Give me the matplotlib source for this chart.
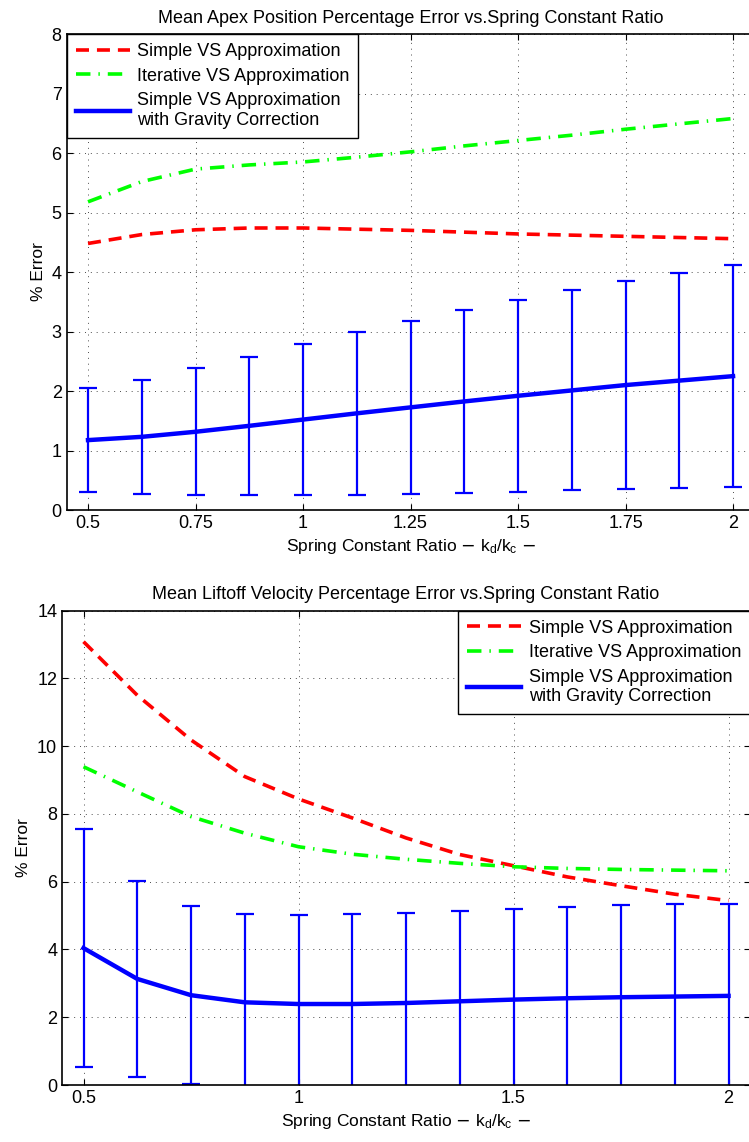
import matplotlib
matplotlib.use("Agg")
import matplotlib.pyplot as plt
import numpy as np

plt.rcParams["font.family"] = ["Liberation Sans", "DejaVu Sans"]

ratio = np.array([0.5, 0.625, 0.75, 0.875, 1.0, 1.125, 1.25, 1.375, 1.5, 1.625, 1.75, 1.875, 2.0])

# apex position error (%)
apex_simple = [4.48, 4.63, 4.71, 4.74, 4.74, 4.72, 4.70, 4.67, 4.64, 4.62, 4.60, 4.58, 4.56]
apex_iter = [5.18, 5.52, 5.73, 5.80, 5.85, 5.93, 6.02, 6.12, 6.21, 6.30, 6.40, 6.49, 6.58]
apex_grav = [1.175, 1.23, 1.315, 1.415, 1.52, 1.625, 1.725, 1.825, 1.92, 2.01, 2.10, 2.175, 2.25]
apex_grav_std = [0.875, 0.96, 1.065, 1.165, 1.27, 1.365, 1.455, 1.535, 1.61, 1.68, 1.75, 1.805, 1.86]

# liftoff velocity error (%)
vel_simple = [13.08, 11.5, 10.18, 9.1, 8.44, 7.88, 7.29, 6.8, 6.47, 6.14, 5.88, 5.63, 5.44]
vel_iter = [9.39, 8.65, 7.92, 7.43, 7.03, 6.81, 6.66, 6.54, 6.44, 6.39, 6.36, 6.34, 6.32]
vel_grav = [4.04, 3.13, 2.65, 2.44, 2.39, 2.39, 2.42, 2.47, 2.52, 2.56, 2.59, 2.61, 2.63]
vel_grav_std = [3.50, 2.90, 2.63, 2.61, 2.64, 2.65, 2.66, 2.66, 2.67, 2.70, 2.71, 2.72, 2.72]

labels = ["Simple VS Approximation", "Iterative VS Approximation",
          "Simple VS Approximation\nwith Gravity Correction"]


def draw(ax, simple, iterative, grav, grav_std, title, ylim, yticks, xticks, legend_loc):
    ax.errorbar(ratio, grav, yerr=grav_std, fmt="none", ecolor=(0, 0, 1),
                elinewidth=1.6, capsize=6.5, capthick=1.6, zorder=2)
    ax.plot(ratio, simple, color=(1, 0, 0), lw=2.6, dashes=(3.6, 2.2), label=labels[0], zorder=3)
    ax.plot(ratio, iterative, color=(0, 1, 0), lw=2.6, dashes=(4.0, 2.2, 0.4, 2.2), label=labels[1], zorder=3)
    ax.plot(ratio, grav, color=(0, 0, 1), lw=3.2, label=labels[2], zorder=4)

    ax.set_xlim(0.45, 2.05)
    ax.set_ylim(*ylim)
    ax.set_xticks(xticks)
    ax.set_xticklabels([f"{t:g}" for t in xticks])
    ax.set_yticks(yticks)
    ax.tick_params(direction="in", top=True, right=True, length=4, labelsize=13, width=0.8)
    ax.grid(True, linestyle=(0, (1, 5)), color="black", lw=0.7, alpha=0.7)
    for s in ax.spines.values():
        s.set_linewidth(1.2)
    ax.set_title(title, fontsize=13, pad=8)
    ax.set_xlabel(r"Spring Constant Ratio $-$ $\mathregular{k_d/k_c}$ $-$", fontsize=12.5, labelpad=4)
    ax.set_ylabel("% Error", fontsize=12.5, labelpad=4)
    leg = ax.legend(loc=legend_loc, borderaxespad=0, fancybox=False, fontsize=13,
                    handlelength=3.0, handletextpad=0.4, labelspacing=0.42,
                    borderpad=0.5, framealpha=1)
    leg.get_frame().set_edgecolor("black")
    leg.get_frame().set_linewidth(1.0)


fig = plt.figure(figsize=(7.49, 11.42), dpi=100)
ax1 = fig.add_axes((0.0888, 0.5534, 0.9186, 0.4168))
ax2 = fig.add_axes((0.0828, 0.0499, 0.9186, 0.4155))

draw(ax1, apex_simple, apex_iter, apex_grav, apex_grav_std,
     "Mean Apex Position Percentage Error vs.Spring Constant Ratio",
     (0, 8), range(0, 9), [0.5, 0.75, 1, 1.25, 1.5, 1.75, 2], "upper left")
draw(ax2, vel_simple, vel_iter, vel_grav, vel_grav_std,
     "Mean Liftoff Velocity Percentage Error vs.Spring Constant Ratio",
     (0, 14), range(0, 15, 2), [0.5, 1, 1.5, 2], "upper right")

fig.savefig("out.png", dpi=100)
